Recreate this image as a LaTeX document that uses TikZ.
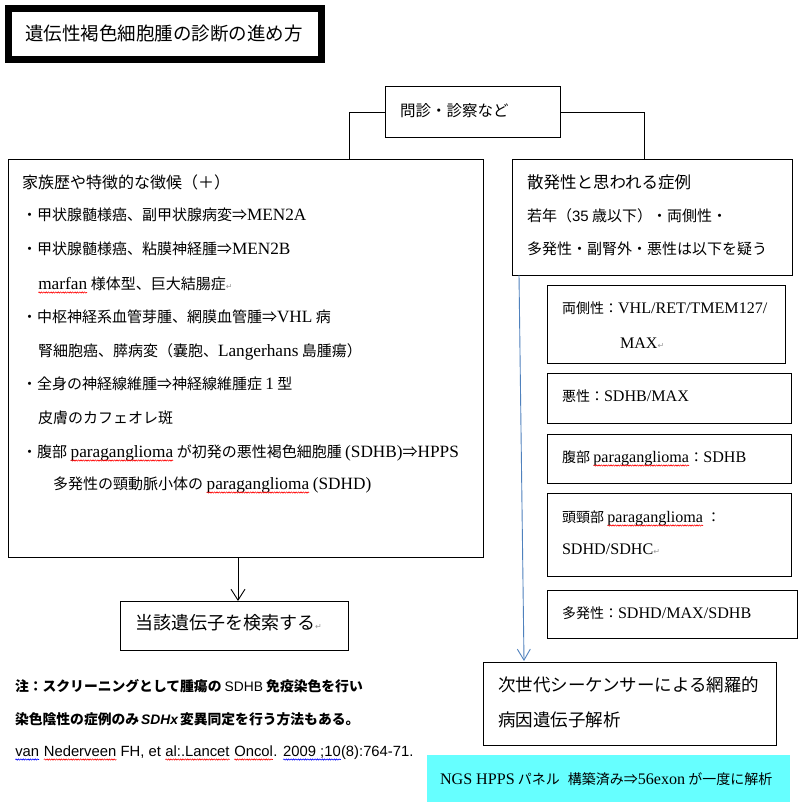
\documentclass[tikz,border=0pt]{standalone}
\usepackage{fontspec}
\setmainfont{Noto Sans CJK JP}
\newfontfamily\lat[Scale=1.15]{Liberation Serif}
\newfontfamily\ari{Liberation Sans}
\newfontfamily\dv{DejaVu Sans}
\usetikzlibrary{arrows.meta,decorations.pathmorphing}
\newcommand\fs[1]{\fontsize{#1}{#1}\selectfont}
\newcommand\rt{{\dv\color{black!40}\fontsize{8}{8}\selectfont ↵}}
\newcommand\wv[2][red]{\tikz[baseline=(wv.base)]{\node[inner sep=0pt,outer sep=0pt,anchor=base west,draw=none,fill=none,font={}] (wv) at (0,0) {#2};\draw[#1,line width=0.6pt,decorate,decoration={snake,amplitude=0.6pt,segment length=2.4pt}] ([yshift=-3.5pt]wv.base west) -- ([yshift=-3.5pt]wv.base east);}}
\tikzset{
  box/.style={draw=black, line width=1pt, rectangle, inner sep=0pt, outer sep=0pt},
  txt/.style={anchor=base west, inner sep=0pt, outer sep=0pt},
  conn/.style={line width=0.9pt, draw=black},
  arr/.style={conn, -{Straight Barb[length=11pt,width=14pt,line width=0.9pt]}},
  barr/.style={line width=0.9pt, draw={rgb,255:red,79;green,129;blue,189}, -{Straight Barb[length=11pt,width=13pt,line width=0.9pt]}},
}
\begin{document}
\begin{tikzpicture}[x=1pt,y=-1pt]
\useasboundingbox (0,0) rectangle (805,810);
\fill[white] (0,0) rectangle (805,810);
% boxes
\node[box, line width=7pt, minimum width=313pt, minimum height=51pt] (title) at (165,34) {};
\node[box, minimum width=175pt, minimum height=51pt] (top) at (472.5,112.5) {};
\node[box, minimum width=475pt, minimum height=397pt] (left) at (245.5,358.5) {};
\node[box, minimum width=280pt, minimum height=115pt] (right) at (652,217.5) {};
\node[box, minimum width=238pt, minimum height=78pt] (s1) at (666,324) {};
\node[box, minimum width=244pt, minimum height=50pt] (s2) at (669,398) {};
\node[box, minimum width=244pt, minimum height=49pt] (s3) at (669,458.5) {};
\node[box, minimum width=244pt, minimum height=83pt] (s4) at (669,534.5) {};
\node[box, minimum width=250pt, minimum height=48pt] (s5) at (672,614) {};
\node[box, minimum width=228pt, minimum height=49pt] (gene) at (234,625.5) {};
\node[box, minimum width=293pt, minimum height=83pt] (ngs) at (629.5,703.5) {};
\node[box, draw=none, fill={rgb,255:red,102;green,255;blue,255}, minimum width=363pt, minimum height=47pt] (cyan) at (608.5,778.5) {};
% connectors
\coordinate (lk) at (349,160);
\coordinate (rk) at (644,160);
\draw[conn] (top.west) -| (lk);
\draw[conn] (top.east) -| (rk);
\coordinate (a1) at (238,557);
\draw[arr] (a1) -- (a1 |- gene.north);
\coordinate (b1) at (519,275);
\coordinate (b2) at (524,661);
\draw[barr] (b1) -- (b2);
% title
\node[txt] (tt) at (25,41) {\fs{18.5}遺伝性褐色細胞腫の診断の進め方};
\node[txt] (tp) at (400,117) {\fs{15.5}問診・診察など};
% left box
\node[txt] (l0) at (22,189) {\fs{16}家族歴や特徴的な徴候（＋）};
\node[txt] (l1) at (22,221) {\fs{15}・甲状腺髄様癌、副甲状腺病変⇒{\lat MEN2A}};
\node[txt] (l2) at (22,254) {\fs{15}・甲状腺髄様癌、粘膜神経腫⇒{\lat MEN2B}};
\node[txt] (l3) at (38,289) {\fs{15}\wv{\lat marfan} 様体型、巨大結腸症\rt};
\node[txt] (l4) at (22,322) {\fs{15}・中枢神経系血管芽腫、網膜血管腫⇒{\lat VHL} 病};
\node[txt] (l5) at (38,356) {\fs{15}腎細胞癌、膵病変（嚢胞、{\lat Langerhans} 島腫瘍）};
\node[txt] (l6) at (22,389) {\fs{15}・全身の神経線維腫⇒神経線維腫症 {\lat 1} 型};
\node[txt] (l7) at (38,423) {\fs{15}皮膚のカフェオレ斑};
\node[txt] (l8) at (22,457) {\fs{15}・腹部 \wv{\lat paraganglioma} が初発の悪性褐色細胞腫 {\lat (SDHB)}⇒{\lat HPPS}};
\node[txt] (l9) at (53,489) {\fs{15}多発性の頸動脈小体の \wv{\lat paraganglioma} {\lat (SDHD)}};
% right box
\node[txt] (r0) at (527,189) {\fs{16.5}散発性と思われる症例};
\node[txt] (r1) at (527,221.5) {\fs{15}若年（{\ari 35} 歳以下）・両側性・};
\node[txt] (r2) at (527,254.5) {\fs{15}多発性・副腎外・悪性は以下を疑う};
% sub boxes
\node[txt] (t1) at (562,313) {\fs{14}両側性：{\lat VHL/RET/TMEM127/}};
\node[txt] (t1b) at (620,348) {\fs{14}{\lat MAX}\rt};
\node[txt] (t2) at (562,401) {\fs{14}悪性：{\lat SDHB/MAX}};
\node[txt] (t3) at (562,462) {\fs{14}腹部 \wv{\lat paraganglioma}：{\lat SDHB}};
\node[txt] (t4) at (562,522) {\fs{14}頭頸部 \wv{\lat paraganglioma} ：};
\node[txt] (t4b) at (562,554) {\fs{14}{\lat SDHD/SDHC}\rt};
\node[txt] (t5) at (562,618) {\fs{14}多発性：{\lat SDHD/MAX/SDHB}};
% gene box
\node[txt] (g0) at (135,629.5) {\fs{18}当該遺伝子を検索する\rt};
% ngs box
\node[txt] (n0) at (498,691.5) {\fs{17.5}次世代シーケンサーによる網羅的};
\node[txt] (n1) at (498,726.5) {\fs{17.5}病因遺伝子解析};
% cyan
\node[txt] (c0) at (440,784) {\fs{14}{\lat NGS HPPS} パネル\hspace{8pt}構築済み⇒{\lat 56exon} が一度に解析};
% notes
\node[txt] (m1) at (15,691) {\fs{13.8}\bfseries 注：スクリーニングとして腫瘍の {\ari\mdseries SDHB} 免疫染色を行い};
\node[txt] (m2) at (15,724) {\fs{13.8}\bfseries 染色陰性の症例のみ\hspace{2pt}{\ari\itshape SDHx}\hspace{2pt}変異同定を行う方法もある。};
\node[txt] (m3) at (15,756) {\fs{14.8}\ari \wv[blue]{van} \wv{Nederveen} FH, et \wv{al:.Lancet} \wv{Oncol}. \wv[blue]{2009 ;10}(8):764-71.};
\end{tikzpicture}
\end{document}
